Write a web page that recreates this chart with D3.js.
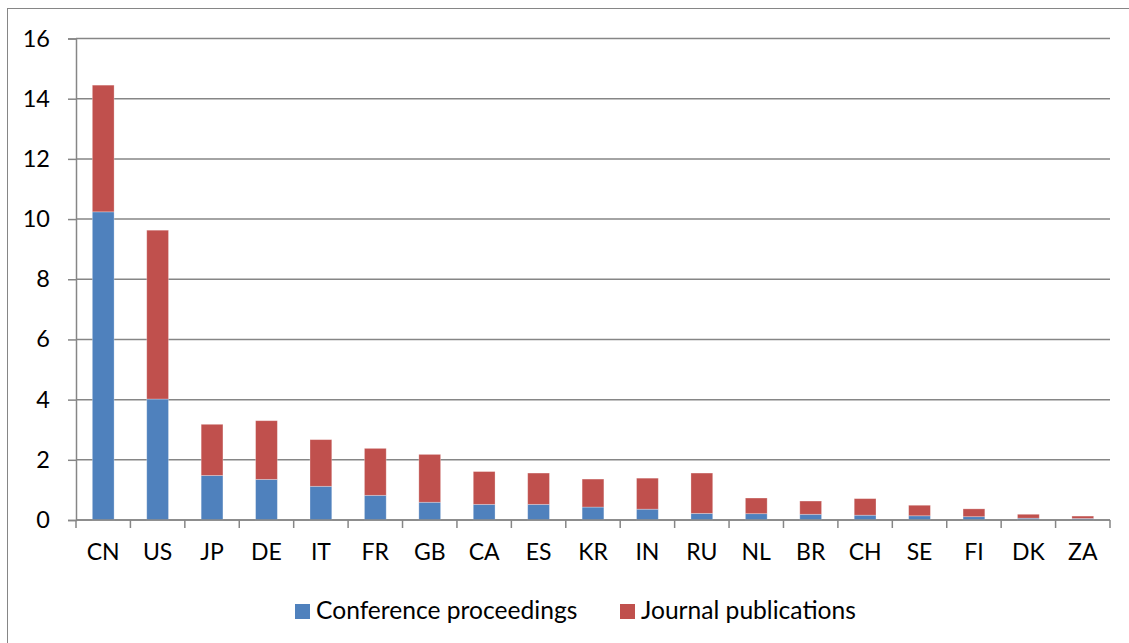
<!DOCTYPE html>
<html>
<head>
<meta charset="utf-8">
<script src="https://cdn.jsdelivr.net/npm/d3@7"></script>
<style>
  body { margin: 0; background: #fff; }
  text { font-family: Lato, "Open Sans", sans-serif; fill: #000; }
</style>
</head>
<body>
<div id="chart"></div>
<script>
// Country codes
const countries = ['CN', 'US', 'JP', 'DE', 'IT', 'FR', 'GB', 'CA', 'ES', 'KR',
                   'IN', 'RU', 'NL', 'BR', 'CH', 'SE', 'FI', 'DK', 'ZA'];
// Conference proceedings share
const conference = [10.24, 4.02, 1.48, 1.35, 1.12, 0.82, 0.59, 0.52, 0.52, 0.43,
                    0.36, 0.22, 0.21, 0.19, 0.16, 0.14, 0.11, 0.06, 0.05];
// Journal publications share (stacked on top)
const journal = [4.21, 5.61, 1.70, 1.95, 1.55, 1.56, 1.59, 1.09, 1.04, 0.93,
                 1.03, 1.34, 0.52, 0.44, 0.55, 0.35, 0.26, 0.13, 0.08];
const yTicks = [0, 2, 4, 6, 8, 10, 12, 14, 16];
const seriesNames = ['Conference proceedings', 'Journal publications'];
const colors = ['#4F81BD', '#C0504D'];

const W = 1129, H = 643;
const margin = {top: 38.5, right: 19, bottom: 123, left: 76};
const width = W - margin.left - margin.right,
      height = H - margin.top - margin.bottom;

const svg = d3.select('#chart').append('svg')
  .attr('width', W).attr('height', H);

// Outer chart frame
svg.append('rect')
  .attr('x', 7.5).attr('y', 8.5)
  .attr('width', W + 10).attr('height', H + 10)
  .attr('fill', 'none').attr('stroke', '#868686').attr('stroke-width', 1);

const g = svg.append('g')
  .attr('transform', `translate(${margin.left},${margin.top})`);

const x = d3.scaleBand().domain(countries).range([0, width]).paddingInner(0.6).paddingOuter(0.3);
const y = d3.scaleLinear().domain([0, 16]).range([height, 0]);

// Gridlines
g.append('g')
  .selectAll('line')
  .data(yTicks)
  .enter().append('line')
    .attr('x1', 0).attr('x2', width)
    .attr('y1', d => y(d)).attr('y2', d => y(d))
    .attr('stroke', '#868686').attr('stroke-width', 1.5);

// Stacked data
const rows = countries.map((c, i) => ({country: c, conf: conference[i], jour: journal[i]}));
const stacked = d3.stack().keys(['conf', 'jour'])(rows);

g.append('g')
  .selectAll('g')
  .data(stacked)
  .enter().append('g')
    .attr('fill', (d, i) => colors[i])
  .selectAll('rect')
  .data(d => d)
  .enter().append('rect')
    .attr('x', d => x(d.data.country))
    .attr('width', x.bandwidth())
    .attr('y', d => y(d[1]))
    .attr('height', d => y(d[0]) - y(d[1]))
    .attr('stroke', 'rgba(255,255,255,0.35)').attr('stroke-width', 0.8);

// Y axis
const yAxis = g.append('g')
  .call(d3.axisLeft(y).tickValues(yTicks).tickSize(8).tickPadding(18));
yAxis.selectAll('text').attr('font-size', 23.5).style('font-family', 'Lato, sans-serif');
yAxis.select('.domain').attr('stroke', '#868686').attr('stroke-width', 1.5);
yAxis.selectAll('.tick line').attr('stroke', '#868686').attr('stroke-width', 1.5);

// X axis: ticks between categories
const bounds = d3.range(countries.length + 1).map(i => i * width / countries.length);
const xAxis = g.append('g').attr('transform', `translate(0,${height})`);
xAxis.append('line').attr('x1', 0).attr('x2', width)
  .attr('stroke', '#868686').attr('stroke-width', 1.5);
xAxis.selectAll('.tk').data(bounds).enter().append('line')
  .attr('class', 'tk')
  .attr('x1', d => d).attr('x2', d => d)
  .attr('y1', 0).attr('y2', 8)
  .attr('stroke', '#868686').attr('stroke-width', 1.5);
xAxis.selectAll('.lbl').data(countries).enter().append('text')
  .attr('class', 'lbl')
  .attr('x', d => x(d) + x.bandwidth() / 2)
  .attr('y', 40)
  .attr('text-anchor', 'middle')
  .attr('font-size', 23)
  .text(d => d);

// Legend
const legendItems = [{x: 295, name: seriesNames[0], color: colors[0]},
                     {x: 620, name: seriesNames[1], color: colors[1]}];
const legend = svg.append('g');
legend.selectAll('rect').data(legendItems).enter().append('rect')
  .attr('x', d => d.x).attr('y', 604)
  .attr('width', 15).attr('height', 15)
  .attr('fill', d => d.color);
legend.selectAll('text').data(legendItems).enter().append('text')
  .attr('x', d => d.x + 21).attr('y', 619)
  .attr('font-size', 24.6)
  .text(d => d.name);
</script>
</body>
</html>
